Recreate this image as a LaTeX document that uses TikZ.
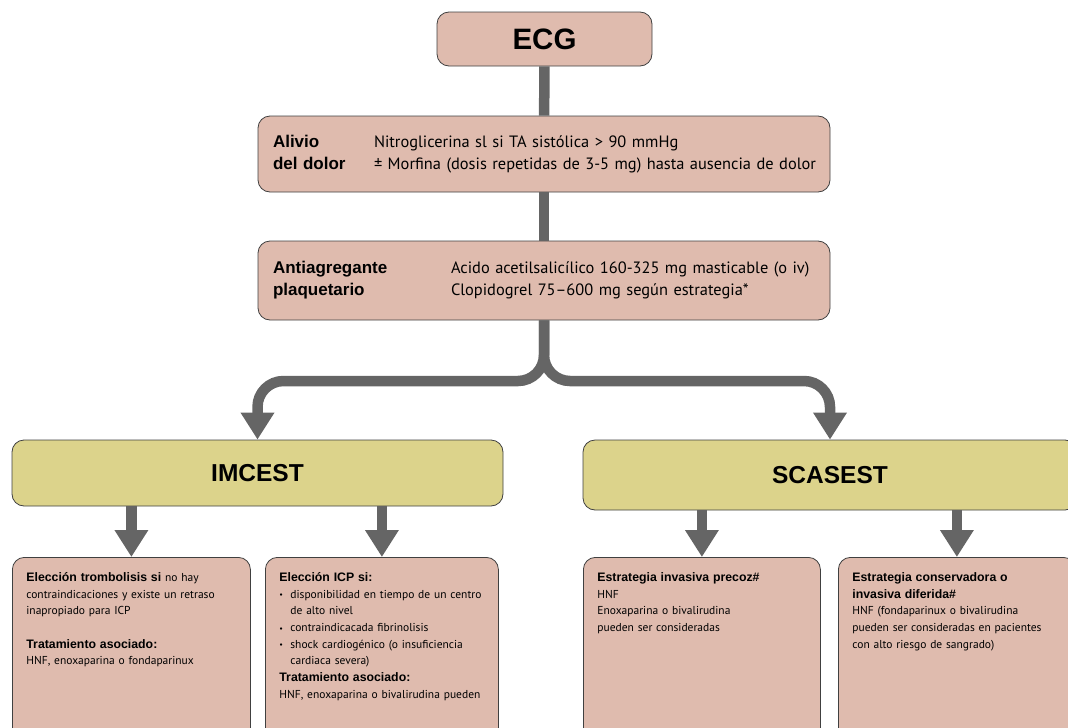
\documentclass[tikz,border=0pt]{standalone}
\usepackage{fontspec}
\setmainfont{PT Sans}
\newfontfamily\headfont{Liberation Sans}
\usetikzlibrary{arrows.meta}

\definecolor{boxpink}{HTML}{DFBBAE}
\definecolor{boxolive}{HTML}{DCD38B}
\definecolor{flowgray}{HTML}{656565}

\tikzset{
  box/.style={draw=black!75, line width=0.8pt, rounded corners=12pt, fill=boxpink},
  group/.style={box, fill=boxolive, font=\headfont\bfseries\fontsize{24.5}{28}\selectfont},
  step box/.style={box, text width=542pt, inner xsep=15pt, align=left,
    font=\fontsize{16.4}{22}\selectfont},
  detail/.style={box, anchor=north west, align=left, inner xsep=14pt, inner ysep=12pt,
    text height=12pt, text depth=180pt, font=\fontsize{11.5}{16.7}\selectfont},
  flow/.style={draw=flowgray, line width=10.5pt},
  flowtip/.style={flow, -{Triangle[width=32pt,length=27pt]}},
}
\newcommand{\hd}[1]{{\headfont\bfseries #1}}
\newcommand{\dhd}[1]{{\headfont\bfseries\fontsize{12.3}{16.7}\selectfont #1}}
\newcommand{\itm}{\makebox[11pt][l]{\raisebox{0.3pt}{\footnotesize\textbullet}}}

\begin{document}
\begin{tikzpicture}[x=1pt,y=-1pt]
	\useasboundingbox (0,0) rectangle (1068,728);
	\clip (0,0) rectangle (1068,728);

	% top column
	\node[box, minimum width=215pt, minimum height=54pt,
	  font=\headfont\bfseries\fontsize{29.5}{32}\selectfont] (ecg) at (544.5,39) {ECG};
	\node[step box, minimum height=76pt] (alivio) at (544,154) {%
	  \begin{tabular}{@{}p{101pt}@{}l@{}}
	  \hd{\fontsize{17}{22}\selectfont Alivio} & Nitroglicerina sl si TA sistólica > 90 mmHg\\
	  \hd{\fontsize{17}{22}\selectfont del dolor} & ± Morfina (dosis repetidas de 3-5 mg) hasta ausencia de dolor
	  \end{tabular}};
	\node[step box, minimum height=79pt] (anti) at (544,280.5) {%
	  \begin{tabular}{@{}p{178pt}@{}l@{}}
	  \hd{\fontsize{17}{22}\selectfont Antiagregante} & Acido acetilsalicílico 160-325 mg masticable (o iv)\\
	  \hd{\fontsize{17}{22}\selectfont plaquetario} & Clopidogrel 75–600 mg según estrategia*
	  \end{tabular}};

	% the two groups
	\node[group, minimum width=491pt, minimum height=66pt] (imcest) at (257.5,473) {IMCEST};
	\node[group, minimum width=494pt, minimum height=70pt] (scasest) at (830,475) {SCASEST};

	% details
	\node[detail, text width=210pt] (trombo) at (12,557) {%
	  \dhd{Elección trombolisis si} no hay\\
	  contraindicaciones y existe un retraso\\
	  inapropiado para ICP\\[16.7pt]
	  \dhd{Tratamiento asociado:}\\
	  HNF, enoxaparina o fondaparinux};
	\node[detail, text width=205pt] (icp) at (265,557) {%
	  \dhd{Elección ICP si:}\\
	  \itm disponibilidad en tiempo de un centro\\
	  \hspace*{11pt}de alto nivel\\
	  \itm contraindicacada fibrinolisis\\
	  \itm shock cardiogénico (o insuficiencia\\
	  \hspace*{11pt}cardiaca severa)\\
	  \dhd{Tratamiento asociado:}\\
	  HNF, enoxaparina o bivalirudina pueden};
	\node[detail, text width=209pt] (precoz) at (583,557) {%
	  \dhd{Estrategia invasiva precoz\#}\\
	  HNF\\
	  Enoxaparina o bivalirudina\\
	  pueden ser consideradas};
	\node[detail, text width=209pt] (diferida) at (838,557) {%
	  \dhd{Estrategia conservadora o}\\
	  \dhd{invasiva diferida\#}\\
	  HNF (fondaparinux o bivalirudina\\
	  pueden ser consideradas en pacientes\\
	  con alto riesgo de sangrado)};

	% connectors
	\draw[flow] (ecg) -- (alivio);
	\draw[flow] (alivio) -- (anti);
	\coordinate (split) at (anti.south |- 0,381);
	\draw[flowtip, rounded corners=26pt] (anti.south) -- (split) -| (imcest.north);
	\draw[flowtip, rounded corners=26pt] (anti.south) -- (split) -| (scasest.north);
	\draw[flowtip] (imcest.south -| trombo.north) -- (trombo.north);
	\draw[flowtip] (imcest.south -| icp.north) -- (icp.north);
	\draw[flowtip] (scasest.south -| precoz.north) -- (precoz.north);
	\draw[flowtip] (scasest.south -| diferida.north) -- (diferida.north);
\end{tikzpicture}
\end{document}
